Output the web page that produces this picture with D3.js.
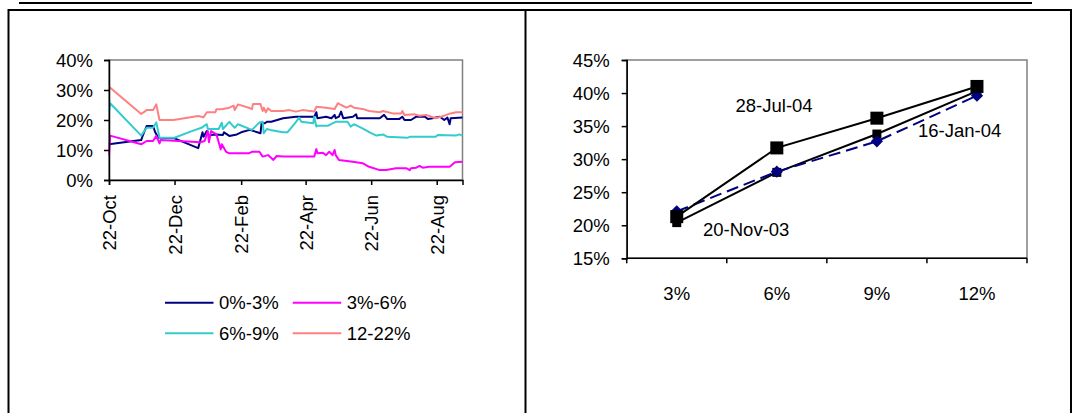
<!DOCTYPE html>
<html>
<head>
<meta charset="utf-8">
<script src="https://cdn.jsdelivr.net/npm/d3@7"></script>
<style>
  html, body { margin: 0; padding: 0; background: #fff; }
  svg { display: block; }
  text {
    font-family: "Liberation Sans", Arial, sans-serif;
    font-size: 18.5px;
    fill: #000;
  }
</style>
</head>
<body>
<svg id="chart" width="1073" height="413"></svg>
<script>
// ---- Left panel: spread by rating band over time (percent) ----
const bandNames  = ["0%-3%", "3%-6%", "6%-9%", "12-22%"];
const bandColors = ["#000080", "#FF00FF", "#33CCCC", "#FF8080"];

const band0to3 = [
  ["2003-10-22", 11.9], ["2003-11-21", 13.3], ["2003-11-22", 14.4], ["2003-11-26", 18.0],
  ["2003-12-02", 18.0], ["2003-12-04", 15.9], ["2003-12-07", 14.1], ["2003-12-22", 13.9],
  ["2004-01-13", 10.6], ["2004-01-17", 15.9], ["2004-01-18", 14.4], ["2004-01-21", 16.3],
  ["2004-01-23", 14.7], ["2004-01-25", 15.0], ["2004-01-29", 15.2], ["2004-02-05", 15.0],
  ["2004-02-06", 15.9], ["2004-02-11", 14.7], ["2004-02-18", 15.2], ["2004-02-22", 15.9],
  ["2004-03-01", 16.7], ["2004-03-11", 15.6], ["2004-03-12", 18.9], ["2004-03-15", 18.9],
  ["2004-03-17", 19.4], ["2004-03-21", 19.4], ["2004-04-01", 20.6], ["2004-04-13", 21.1],
  ["2004-04-30", 21.1], ["2004-05-02", 22.6], ["2004-05-03", 20.6], ["2004-05-11", 21.1],
  ["2004-05-16", 20.6], ["2004-05-19", 21.7], ["2004-05-20", 20.6], ["2004-05-23", 21.1],
  ["2004-05-25", 22.8], ["2004-05-27", 20.6], ["2004-06-05", 21.1], ["2004-06-08", 21.9],
  ["2004-06-09", 20.6], ["2004-06-30", 20.6], ["2004-07-04", 21.7], ["2004-07-07", 20.3],
  ["2004-07-18", 20.3], ["2004-07-21", 21.1], ["2004-07-23", 20.0], ["2004-07-29", 20.0],
  ["2004-08-03", 21.1], ["2004-08-11", 21.1], ["2004-08-14", 20.3], ["2004-08-18", 20.6],
  ["2004-08-25", 21.1], ["2004-08-29", 20.0], ["2004-09-01", 20.8], ["2004-09-03", 18.6],
  ["2004-09-04", 20.6], ["2004-09-15", 20.8]
];

const band3to6 = [
  ["2003-10-22", 8.3], ["2003-10-23", 14.8], ["2003-11-21", 11.9], ["2003-11-26", 13.0],
  ["2003-12-02", 13.0], ["2003-12-05", 14.7], ["2003-12-08", 12.2], ["2003-12-09", 13.3],
  ["2004-01-15", 12.6], ["2004-01-19", 13.0], ["2004-01-22", 16.3], ["2004-01-23", 12.6],
  ["2004-01-25", 16.3], ["2004-01-30", 15.2], ["2004-02-03", 10.2], ["2004-02-04", 11.9],
  ["2004-02-08", 9.4], ["2004-02-11", 8.9], ["2004-02-29", 8.9], ["2004-03-03", 9.4],
  ["2004-03-10", 9.4], ["2004-03-13", 7.8], ["2004-03-18", 8.3], ["2004-03-23", 6.7],
  ["2004-03-26", 8.0], ["2004-04-01", 7.8], ["2004-04-30", 7.8], ["2004-05-02", 10.3],
  ["2004-05-03", 8.9], ["2004-05-08", 9.1], ["2004-05-11", 8.3], ["2004-05-14", 9.4],
  ["2004-05-17", 8.3], ["2004-05-19", 10.0], ["2004-05-20", 8.3], ["2004-05-23", 6.7],
  ["2004-06-05", 6.1], ["2004-06-14", 5.6], ["2004-06-20", 4.4], ["2004-06-30", 3.3],
  ["2004-07-06", 3.3], ["2004-07-15", 3.9], ["2004-07-25", 3.9], ["2004-07-28", 3.3],
  ["2004-07-29", 3.9], ["2004-08-03", 4.1], ["2004-08-06", 4.7], ["2004-08-09", 4.1],
  ["2004-08-15", 4.4], ["2004-09-03", 4.4], ["2004-09-08", 5.9], ["2004-09-15", 6.1]
];

const band6to9 = [
  ["2003-10-22", 22.8], ["2003-10-23", 25.6], ["2003-11-21", 14.8], ["2003-11-26", 17.4],
  ["2003-12-02", 17.4], ["2003-12-05", 19.2], ["2003-12-08", 14.1], ["2003-12-22", 14.1],
  ["2004-01-07", 16.3], ["2004-01-16", 17.4], ["2004-01-21", 18.6], ["2004-01-22", 17.0],
  ["2004-02-01", 17.0], ["2004-02-04", 19.1], ["2004-02-05", 17.0], ["2004-02-11", 19.4],
  ["2004-02-16", 17.4], ["2004-02-19", 18.6], ["2004-03-03", 16.7], ["2004-03-10", 19.2],
  ["2004-03-13", 19.4], ["2004-03-14", 15.6], ["2004-03-17", 17.0], ["2004-03-20", 16.7],
  ["2004-04-01", 15.9], ["2004-04-05", 15.9], ["2004-04-12", 18.9], ["2004-04-16", 20.8],
  ["2004-04-18", 19.4], ["2004-04-29", 18.9], ["2004-04-30", 21.1], ["2004-05-02", 17.8],
  ["2004-05-03", 18.1], ["2004-05-13", 18.1], ["2004-05-17", 18.9], ["2004-05-20", 19.4],
  ["2004-05-31", 19.4], ["2004-06-03", 17.8], ["2004-06-06", 18.6], ["2004-06-13", 17.4],
  ["2004-06-22", 15.6], ["2004-06-27", 14.8], ["2004-07-03", 15.2], ["2004-07-07", 14.4],
  ["2004-07-26", 14.1], ["2004-07-28", 14.4], ["2004-08-21", 14.4], ["2004-08-23", 15.0],
  ["2004-09-09", 14.8], ["2004-09-12", 15.2], ["2004-09-15", 14.8]
];

const band12to22 = [
  ["2003-10-22", 31.1], ["2003-11-21", 22.0], ["2003-11-26", 23.3], ["2003-12-02", 23.3],
  ["2003-12-05", 25.2], ["2003-12-08", 20.0], ["2003-12-21", 20.0], ["2004-01-13", 21.3],
  ["2004-01-18", 20.9], ["2004-01-21", 22.6], ["2004-01-29", 22.6], ["2004-01-30", 23.6],
  ["2004-02-04", 23.6], ["2004-02-11", 24.1], ["2004-02-15", 24.8], ["2004-02-16", 23.3],
  ["2004-02-19", 25.2], ["2004-02-29", 24.1], ["2004-03-03", 23.6], ["2004-03-04", 25.3],
  ["2004-03-11", 25.3], ["2004-03-13", 23.0], ["2004-03-14", 24.1], ["2004-03-16", 22.6],
  ["2004-03-18", 23.9], ["2004-03-21", 23.0], ["2004-04-01", 23.0], ["2004-04-07", 23.3],
  ["2004-04-13", 22.8], ["2004-04-19", 23.3], ["2004-04-30", 22.8], ["2004-05-02", 24.4],
  ["2004-05-11", 24.1], ["2004-05-19", 23.7], ["2004-05-22", 25.6], ["2004-05-25", 25.0],
  ["2004-05-30", 24.1], ["2004-06-03", 24.8], ["2004-06-06", 24.1], ["2004-06-14", 23.7],
  ["2004-06-20", 23.0], ["2004-06-30", 22.6], ["2004-07-03", 23.0], ["2004-07-12", 22.2],
  ["2004-07-20", 22.2], ["2004-07-21", 23.0], ["2004-07-23", 21.7], ["2004-08-01", 21.9],
  ["2004-08-06", 21.4], ["2004-08-12", 21.7], ["2004-08-17", 21.1], ["2004-08-21", 20.6],
  ["2004-08-26", 21.1], ["2004-08-31", 21.7], ["2004-09-04", 22.2], ["2004-09-09", 22.6],
  ["2004-09-15", 22.6]
];

const timeDomain  = ["2003-10-22", "2004-09-15"];
const timeTicks   = ["2003-10-22", "2003-12-22", "2004-02-22", "2004-04-22", "2004-06-22", "2004-08-22"];
const timeLabels  = ["22-Oct", "22-Dec", "22-Feb", "22-Apr", "22-Jun", "22-Aug"];
const leftYTicks  = [0, 10, 20, 30, 40];

// ---- Right panel: curve across bands on three dates (percent) ----
const bandSteps   = ["3%", "6%", "9%", "12%"];
const curveNames  = ["20-Nov-03", "16-Jan-04", "28-Jul-04"];
const curveNov03  = [20.4, 28.0, 33.8, 40.3];
const curveJan04  = [22.1, 28.1, 32.7, 39.6];
const curveJul04  = [21.3, 31.7, 36.2, 41.0];
const rightYTicks = [15, 20, 25, 30, 35, 40, 45];

const svg = d3.select("#chart");
const parse = d3.utcParse("%Y-%m-%d");

// ---- Page frame ----
svg.append("line").attr("x1", 19).attr("x2", 1032).attr("y1", 3).attr("y2", 3)
  .attr("stroke", "#000").attr("stroke-width", 2);
const frame = svg.append("g").attr("stroke", "#000").attr("stroke-width", 2).attr("fill", "none");
frame.append("path").attr("d", "M8.5,430 V10 H1071 V430");
frame.append("line").attr("x1", 525.5).attr("x2", 525.5).attr("y1", 10).attr("y2", 430);

// ================= Left panel =================
const L = { left: 109, top: 60, width: 353.5, height: 120 };
const xL = d3.scaleUtc().domain(timeDomain.map(parse)).range([L.left, L.left + L.width]);
const yL = d3.scaleLinear().domain([0, 40]).range([L.top + L.height, L.top]);

const gL = svg.append("g");
gL.append("rect")
  .attr("x", L.left).attr("y", L.top).attr("width", L.width).attr("height", L.height)
  .attr("fill", "none").attr("stroke", "#808080").attr("stroke-width", 1.5);

const lineL = d3.line().x(d => xL(parse(d[0]))).y(d => yL(d[1]));
[band0to3, band3to6, band6to9, band12to22].forEach((series, i) => {
  gL.append("path").datum(series)
    .attr("d", lineL)
    .attr("fill", "none")
    .attr("stroke", bandColors[i])
    .attr("stroke-width", 2)
    .attr("stroke-linejoin", "round");
});

const axL = gL.append("g").attr("transform", `translate(${L.left},0)`)
  .call(d3.axisLeft(yL).tickValues(leftYTicks).tickFormat(d => d + "%").tickSize(5).tickPadding(11));
const axB = gL.append("g").attr("transform", `translate(0,${L.top + L.height})`)
  .call(d3.axisBottom(xL).tickValues(timeTicks.map(parse))
    .tickFormat((d, i) => timeLabels[i]).tickSize(5));
axB.selectAll("text")
  .attr("transform", "rotate(-90)")
  .attr("text-anchor", "end")
  .attr("x", -15).attr("y", 0).attr("dy", "0.36em");
[axL, axB].forEach(a => {
  a.select(".domain").attr("stroke", "#000").attr("stroke-width", 1.5);
  a.selectAll(".tick line").attr("stroke", "#000").attr("stroke-width", 1.5);
  a.selectAll("text").style("font-size", "18.5px").style("font-family", null);
});
axL.selectAll("text").attr("dy", "0.36em");

// Legend, two columns by two rows
const legend = svg.append("g");
bandNames.forEach((name, i) => {
  const col = i % 2, row = Math.floor(i / 2);
  const lx = 165 + col * 127.7, ly = 302.7 + row * 30.6;
  legend.append("line").attr("x1", lx).attr("x2", lx + 48.5).attr("y1", ly).attr("y2", ly)
    .attr("stroke", bandColors[i]).attr("stroke-width", 2);
  legend.append("text").attr("x", lx + 54).attr("y", ly).attr("dy", "0.36em").text(name);
});

// ================= Right panel =================
const R = { left: 626.7, top: 60, width: 400.3, height: 198.3 };
const xR = d3.scaleBand().domain(bandSteps).range([R.left, R.left + R.width]).padding(0);
const yR = d3.scaleLinear().domain([15, 45]).range([R.top + R.height, R.top]);
const cx = d => xR(d) + xR.bandwidth() / 2;

const gR = svg.append("g");
gR.append("rect")
  .attr("x", R.left).attr("y", R.top).attr("width", R.width).attr("height", R.height)
  .attr("fill", "none").attr("stroke", "#808080").attr("stroke-width", 1.5);

const axR = gR.append("g").attr("transform", `translate(${R.left},0)`)
  .call(d3.axisLeft(yR).tickValues(rightYTicks).tickFormat(d => d + "%").tickSize(5).tickPadding(12));
axR.select(".domain").attr("stroke", "#000").attr("stroke-width", 1.5);
axR.selectAll(".tick line").attr("stroke", "#000").attr("stroke-width", 1.5);
axR.selectAll("text").style("font-size", "18.5px").style("font-family", null).attr("dy", "0.36em");

// Category axis: ticks on band boundaries, labels centred in each band
const yBase = R.top + R.height;
gR.append("line").attr("x1", R.left).attr("x2", R.left + R.width).attr("y1", yBase).attr("y2", yBase)
  .attr("stroke", "#000").attr("stroke-width", 1.5);
const bounds = bandSteps.map(d => xR(d)).concat([R.left + R.width]);
gR.selectAll(".btick").data(bounds).join("line")
  .attr("x1", d => d).attr("x2", d => d).attr("y1", yBase).attr("y2", yBase + 5)
  .attr("stroke", "#000").attr("stroke-width", 1.5);
gR.selectAll(".blabel").data(bandSteps).join("text")
  .attr("x", d => cx(d)).attr("y", 293).attr("dy", "0.36em")
  .attr("text-anchor", "middle").text(d => d);

const lineR = d3.line().x((d, i) => cx(bandSteps[i])).y(d => yR(d));

// 20-Nov-03: black line, small squares
gR.append("path").datum(curveNov03).attr("d", lineR)
  .attr("fill", "none").attr("stroke", "#000").attr("stroke-width", 2);
gR.selectAll(".mNov").data(curveNov03).join("rect")
  .attr("x", (d, i) => cx(bandSteps[i]) - 4.5).attr("y", d => yR(d) - 4.5)
  .attr("width", 9).attr("height", 9).attr("fill", "#000");

// 16-Jan-04: navy dashed line, diamonds
gR.append("path").datum(curveJan04).attr("d", lineR)
  .attr("fill", "none").attr("stroke", "#000080").attr("stroke-width", 2)
  .attr("stroke-dasharray", "12,6");
const diamond = d3.symbol().type(d3.symbolDiamond2).size(95);
gR.selectAll(".mJan").data(curveJan04).join("path")
  .attr("d", diamond)
  .attr("transform", (d, i) => `translate(${cx(bandSteps[i])},${yR(d)})`)
  .attr("fill", "#000080");

// 28-Jul-04: black line, large squares
gR.append("path").datum(curveJul04).attr("d", lineR)
  .attr("fill", "none").attr("stroke", "#000").attr("stroke-width", 2);
gR.selectAll(".mJul").data(curveJul04).join("rect")
  .attr("x", (d, i) => cx(bandSteps[i]) - 6.5).attr("y", d => yR(d) - 6.5)
  .attr("width", 13).attr("height", 13).attr("fill", "#000");

// Curve labels
gR.append("text").attr("x", 735.5).attr("y", 111.5).text(curveNames[2]);
gR.append("text").attr("x", 703).attr("y", 235.5).text(curveNames[0]);
gR.append("text").attr("x", 918).attr("y", 136.5).text(curveNames[1]);
</script>
</body>
</html>
